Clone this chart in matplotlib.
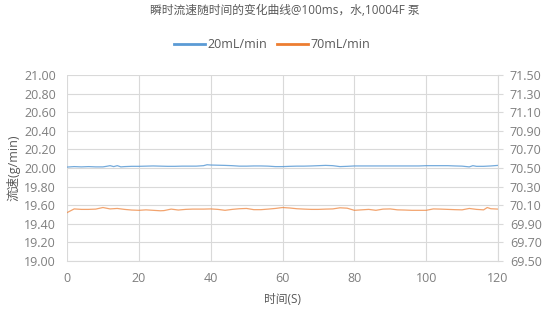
import matplotlib
matplotlib.use("Agg")
import matplotlib.pyplot as plt
import numpy as np

plt.rcParams['font.family'] = ['Open Sans', 'Noto Sans CJK SC', 'DejaVu Sans']

title = "瞬时流速随时间的变化曲线@100ms，水,10004F 泵"
series_names = ["20mL/min", "70mL/min"]
x_label = "时间(S)"
y_label = "流速(g/min)"

t_blue = [0, 2, 4, 6, 8, 10, 11, 12, 13, 14, 15, 16, 18, 20, 22, 24, 26, 28, 30, 32, 34, 36,
          38, 39, 40, 42, 44, 46, 48, 50, 52, 54, 56, 58, 60, 62, 64, 66, 68, 70, 72, 74,
          76, 78, 80, 82, 84, 86, 88, 90, 92, 94, 96, 98, 100, 102, 104, 106, 108, 110,
          112, 113, 114, 116, 118, 120]
v_blue = [20.01, 20.015, 20.012, 20.015, 20.012, 20.012, 20.018, 20.025, 20.015, 20.025, 20.012,
          20.015, 20.018, 20.018, 20.02, 20.022, 20.02, 20.018, 20.018, 20.02, 20.02, 20.02,
          20.025, 20.035, 20.032, 20.03, 20.028, 20.025, 20.02, 20.02, 20.022, 20.022, 20.02,
          20.015, 20.015, 20.018, 20.02, 20.02, 20.022, 20.025, 20.028, 20.025, 20.015,
          20.018, 20.022, 20.022, 20.022, 20.022, 20.022, 20.022, 20.022, 20.022, 20.022,
          20.022, 20.025, 20.025, 20.025, 20.025, 20.022, 20.02, 20.012, 20.025, 20.018,
          20.018, 20.022, 20.028]

t_orange = [0, 2, 4, 6, 8, 10, 12, 14, 16, 18, 20, 22, 24, 26, 27, 29, 31, 33, 35, 38, 40,
            42, 44, 46, 48, 50, 52, 54, 56, 58, 60, 62, 64, 66, 68, 70, 72, 74, 76, 78, 80,
            82, 84, 86, 88, 90, 92, 94, 96, 98, 100, 102, 104, 106, 108, 110, 112, 114, 116,
            117, 118, 120]
v_orange = [70.02, 70.06, 70.055, 70.055, 70.058, 70.075, 70.06, 70.065, 70.055, 70.048,
            70.045, 70.05, 70.045, 70.04, 70.042, 70.058, 70.048, 70.055, 70.058, 70.058,
            70.06, 70.055, 70.045, 70.055, 70.062, 70.065, 70.052, 70.052, 70.058, 70.065,
            70.075, 70.07, 70.062, 70.058, 70.055, 70.055, 70.058, 70.06, 70.072, 70.068,
            70.045, 70.05, 70.055, 70.045, 70.058, 70.06, 70.05, 70.048, 70.045, 70.045,
            70.045, 70.06, 70.058, 70.055, 70.052, 70.05, 70.065, 70.055, 70.05, 70.075,
            70.062, 70.058]

x_ticks = [0, 20, 40, 60, 80, 100, 120]
yl_ticks = [19.0 + 0.2 * i for i in range(11)]
yr_ticks = [69.5 + 0.2 * i for i in range(11)]

blue = "#5B9BD5"
orange = "#ED7D31"
txt = "#595959"
tick_txt = "#7F7F7F"
grid = "#D9D9D9"

fig = plt.figure(figsize=(5.54, 3.10), dpi=100)
ax = fig.add_axes([67 / 554, 49 / 310, 431 / 554, 186 / 310])
ax2 = ax.twinx()

l1, = ax.plot(t_blue, v_blue, color=blue, lw=0.9, alpha=0.85, label=series_names[0])
l2, = ax2.plot(t_orange, v_orange, color=orange, lw=0.9, alpha=0.7, label=series_names[1])

ax.set_xlim(0, 120)
ax.set_ylim(19.0, 21.0)
ax2.set_ylim(69.5, 71.5)
ax.set_xticks(x_ticks)
ax.set_yticks(yl_ticks)
ax.set_yticklabels([f"{v:.2f}" for v in yl_ticks])
ax2.set_yticks(yr_ticks)
ax2.set_yticklabels([f"{v:.2f}" for v in yr_ticks])

ax.grid(True, color=grid, lw=0.8)
ax.set_axisbelow(True)
for a in (ax, ax2):
    for s in a.spines.values():
        s.set_visible(False)
ax2.spines['right'].set_visible(True)
ax2.spines['right'].set_color(grid)
ax.spines['bottom'].set_visible(True)
ax.spines['bottom'].set_color(grid)

ax.tick_params(axis='both', length=0, labelsize=9, labelcolor=tick_txt)
ax.tick_params(axis='x', pad=8)
ax.tick_params(axis='y', pad=8)
ax2.tick_params(axis='y', length=3.6, color=grid, labelsize=9, labelcolor=tick_txt, pad=5)

ax.set_xlabel(x_label, fontsize=8.5, color=txt, labelpad=6)
ax.set_ylabel(y_label, fontsize=9, color=txt, va='center')
ax.yaxis.set_label_coords((13 - 67) / 431, 0.5)

fig.text(285 / 554, 1 - 11 / 310, title, ha='center', va='center', fontsize=8.5, color=txt)
leg = fig.legend(handles=[l1, l2], loc='center', bbox_to_anchor=(272 / 554, 1 - 45 / 310), ncol=2,
                 frameon=False, fontsize=9, labelcolor=txt, handlelength=2.5, columnspacing=0.8,
                 handletextpad=0.2)
for h in leg.get_lines():
    h.set_linewidth(2)
    h.set_alpha(1)

fig.savefig("out.png", dpi=100)
